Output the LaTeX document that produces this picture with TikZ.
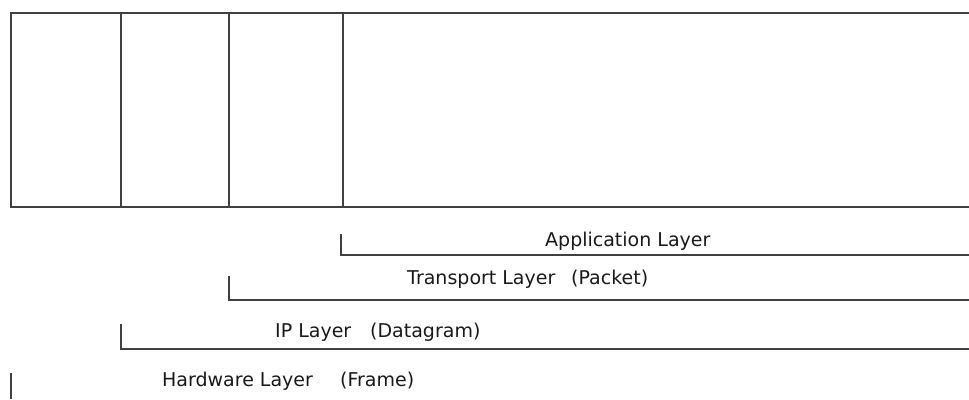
\documentclass[tikz,border=0pt]{standalone}
\usepackage{fontspec}
\setmainfont{DejaVu Sans}
\begin{document}
\begin{tikzpicture}[x=1pt,y=-1pt,
  ln/.style={draw=black!75,line width=2pt},
  lbl/.style={anchor=base west,inner sep=0pt,font=\fontsize{19}{21}\selectfont,text=black!90}]
\useasboundingbox (0,0) rectangle (969,399);
% frame
\coordinate (tl) at (11,13);
\coordinate (br) at (969,207);
\draw[ln] (969,13) -- (tl) -- (11,207) -- (br);
\draw[ln] (121,13) -- (121,207);
\draw[ln] (229,13) -- (229,207);
\draw[ln] (343,13) -- (343,207);
% brackets
\coordinate (a0) at (341,234); \coordinate (a1) at (341,255); \coordinate (a2) at (969,255);
\draw[ln] (a0) -- (a1) -- (a2);
\coordinate (t0) at (229,276); \coordinate (t1) at (229,300); \coordinate (t2) at (969,300);
\draw[ln] (t0) -- (t1) -- (t2);
\coordinate (i0) at (121,324); \coordinate (i1) at (121,349); \coordinate (i2) at (969,349);
\draw[ln] (i0) -- (i1) -- (i2);
\coordinate (h0) at (11,373); \coordinate (h1) at (11,399);
\draw[ln] (h0) -- (h1);
% labels
\node[lbl] (app) at (545,246) {Application Layer};
\node[lbl] (tr) at (407,284) {Transport Layer};
\node[lbl] (trp) at (571,284) {(Packet)};
\node[lbl] (ip) at (275,337) {IP Layer};
\node[lbl] (ipp) at (370,337) {(Datagram)};
\node[lbl] (hw) at (162,386) {Hardware Layer};
\node[lbl] (hwp) at (340,386) {(Frame)};
\end{tikzpicture}
\end{document}
